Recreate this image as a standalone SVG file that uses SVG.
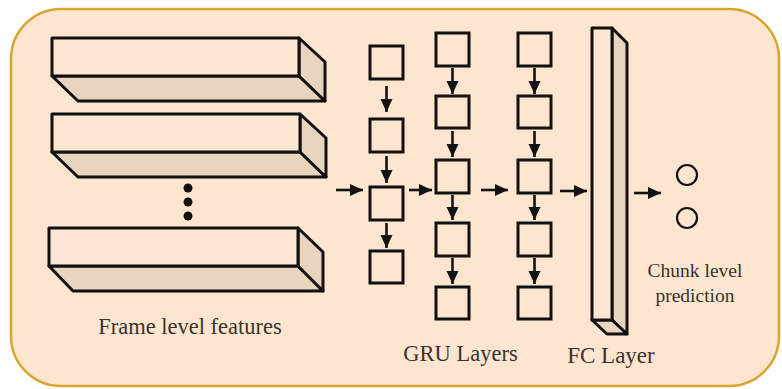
<svg xmlns="http://www.w3.org/2000/svg" width="782" height="389" viewBox="0 0 782 389">
  <style>
    .frame { fill: #fde5cf; stroke: #d9a52f; stroke-width: 2.5; }
    .face { fill: #fde7d3; stroke: #111; stroke-width: 3; stroke-linejoin: round; }
    .side { fill: #e9d5be; stroke: #111; stroke-width: 3; stroke-linejoin: round; }
    .cell { fill: none; stroke: #111; stroke-width: 3; }
    .out { fill: none; stroke: #111; stroke-width: 2.2; }
    .link { stroke: #111; stroke-width: 2.6; fill: none; marker-end: url(#head); }
    .label { font-family: 'Liberation Serif', 'Times New Roman', Times, 'DejaVu Serif', serif; fill: #3a332d; text-anchor: middle; }
  </style>
  <defs>
    <marker id="head" markerUnits="userSpaceOnUse" markerWidth="14" markerHeight="14" refX="13" refY="7" orient="auto">
      <path d="M0,1 L13,7 L0,13 Z" fill="#111"/>
    </marker>
  </defs>

  <rect class="frame" x="11" y="9" width="768" height="377" rx="50" ry="50"/>

  <!-- frame feature blocks -->
  <g id="frame-block-1">
    <polygon class="side" points="52,76 299,76 325,101 78,101"/>
    <polygon class="side" points="299,38 325,62 325,101 299,76"/>
    <rect class="face" x="52" y="38" width="247" height="38"/>
  </g>
  <g id="frame-block-2">
    <polygon class="side" points="52,152 300,152 326,177 78,177"/>
    <polygon class="side" points="300,114 326,138 326,177 300,152"/>
    <rect class="face" x="52" y="114" width="248" height="38"/>
  </g>
  <g id="ellipsis">
    <circle cx="188" cy="188" r="4.5" fill="#111"/>
    <circle cx="188" cy="202" r="4.5" fill="#111"/>
    <circle cx="188" cy="216" r="4.5" fill="#111"/>
  </g>
  <g id="frame-block-3">
    <polygon class="side" points="49,266 298,266 323,291 73,291"/>
    <polygon class="side" points="298,228 323,252 323,291 298,266"/>
    <rect class="face" x="49" y="228" width="249" height="38"/>
  </g>
  <text class="label" x="190" y="334" font-size="22.5" font-family="Liberation Serif, serif">Frame level features</text>

  <!-- GRU layer 1 -->
  <g id="gru-1">
    <rect class="cell" x="370" y="46" width="33" height="33"/>
    <rect class="cell" x="370" y="119" width="33" height="33"/>
    <rect class="cell" x="370" y="187" width="33" height="33"/>
    <rect class="cell" x="370" y="251" width="33" height="32"/>
  </g>
  <!-- GRU layer 2 -->
  <g id="gru-2">
    <rect class="cell" x="436" y="33" width="33" height="33"/>
    <rect class="cell" x="436" y="96" width="33" height="32"/>
    <rect class="cell" x="436" y="160" width="33" height="33"/>
    <rect class="cell" x="436" y="223" width="33" height="33"/>
    <rect class="cell" x="436" y="287" width="33" height="32"/>
  </g>
  <!-- GRU layer 3 -->
  <g id="gru-3">
    <rect class="cell" x="518" y="33" width="33" height="33"/>
    <rect class="cell" x="518" y="96" width="33" height="32"/>
    <rect class="cell" x="518" y="160" width="33" height="33"/>
    <rect class="cell" x="518" y="223" width="33" height="33"/>
    <rect class="cell" x="518" y="287" width="33" height="32"/>
  </g>
  <text class="label" x="460.5" y="361" font-size="22.5" font-family="Liberation Serif, serif">GRU Layers</text>

  <!-- fully connected layer -->
  <g id="fc-layer">
    <polygon class="side" points="612,28 627,43 627,334 612,320"/>
    <polygon class="side" points="592,320 612,320 627,334 607,334"/>
    <rect class="face" x="592" y="28" width="20" height="292"/>
  </g>
  <text class="label" x="611" y="363" font-size="23" font-family="Liberation Serif, serif">FC Layer</text>

  <!-- chunk level outputs -->
  <g id="outputs">
    <circle class="out" cx="687" cy="175" r="10"/>
    <circle class="out" cx="687" cy="218" r="10"/>
  </g>
  <text class="label" x="695" y="277" font-size="19.5" font-family="Liberation Serif, serif">Chunk level</text>
  <text class="label" x="695" y="302" font-size="19.5" font-family="Liberation Serif, serif">prediction</text>

  <!-- connectors -->
  <g id="connectors">
    <line class="link" x1="386.5" y1="86" x2="386.5" y2="112"/>
    <line class="link" x1="386.5" y1="156" x2="386.5" y2="183"/>
    <line class="link" x1="386.5" y1="223" x2="386.5" y2="248"/>

    <line class="link" x1="452.5" y1="68" x2="452.5" y2="94"/>
    <line class="link" x1="452.5" y1="131" x2="452.5" y2="157"/>
    <line class="link" x1="452.5" y1="195" x2="452.5" y2="220"/>
    <line class="link" x1="452.5" y1="258" x2="452.5" y2="284"/>

    <line class="link" x1="534.5" y1="68" x2="534.5" y2="94"/>
    <line class="link" x1="534.5" y1="131" x2="534.5" y2="157"/>
    <line class="link" x1="534.5" y1="195" x2="534.5" y2="220"/>
    <line class="link" x1="534.5" y1="258" x2="534.5" y2="284"/>

    <line class="link" x1="336" y1="190" x2="363" y2="190"/>
    <line class="link" x1="409" y1="190" x2="432" y2="190"/>
    <line class="link" x1="481" y1="190" x2="508" y2="190"/>
    <line class="link" x1="560" y1="191" x2="587" y2="191"/>
    <line class="link" x1="634" y1="193" x2="661" y2="193"/>
  </g>
</svg>
